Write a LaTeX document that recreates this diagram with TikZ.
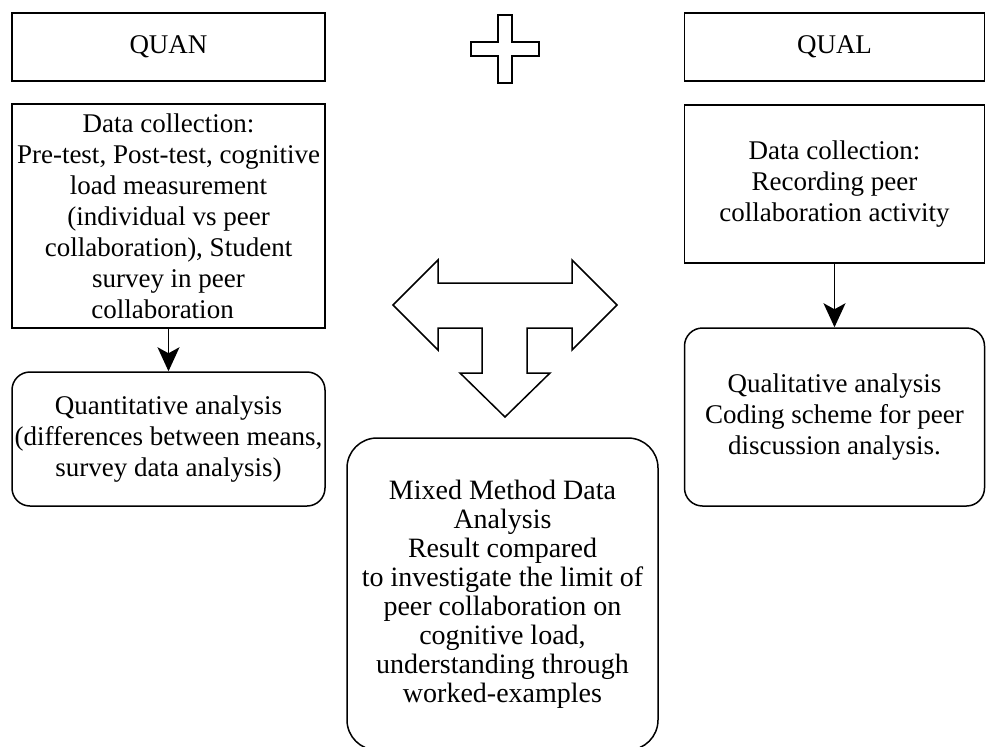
\documentclass[tikz,border=0pt]{standalone}
\usepackage{fontspec}
\setmainfont{Liberation Serif}
\usetikzlibrary{arrows.meta}

\begin{document}
\begin{tikzpicture}[
  x=1pt, y=-1pt,
  box/.style={draw, line width=1.5pt, align=center, inner sep=0pt,
    font=\fontsize{27}{31}\selectfont},
  roundbox/.style={box, rounded corners=18pt},
  outline/.style={draw, line width=1.5pt, line join=miter},
  link/.style={line width=1.5pt, -{Stealth[length=24pt,width=22pt,inset=6pt]}}
]
\useasboundingbox (0,0) rectangle (986,747);
\clip (0,0) rectangle (986,747);

\node[box, minimum width=313pt, minimum height=68pt] (quan) at (168.5,47) {QUAN};
\node[box, minimum width=300pt, minimum height=68pt] (qual) at (834.5,47) {QUAL};

\node[box, minimum width=313pt, minimum height=224pt] (quandata) at (168.5,216)
  {Data collection:\\ Pre-test, Post-test, cognitive\\ load measurement\\
   (individual vs peer\\ collaboration), Student\\ survey in peer\\
   collaboration\hspace*{12pt}};
\node[box, minimum width=300pt, minimum height=158pt] (qualdata) at (834.5,184)
  {Data collection:\\ Recording peer\\ collaboration activity};

\node[roundbox, minimum width=313pt, minimum height=134pt] (quanana) at (168.5,439)
  {Quantitative analysis\\ (differences between means,\\ survey data analysis)};
\node[roundbox, minimum width=300pt, minimum height=178pt] (qualana) at (834.5,417)
  {Qualitative analysis\\ Coding scheme for peer\\ discussion analysis.};

\node[roundbox, rounded corners=30pt, minimum width=311pt, minimum height=312pt,
  font=\fontsize{28}{29}\selectfont] (mixed) at (502.5,594)
  {Mixed Method Data\\ Analysis\\ Result compared\\ to investigate the limit of\\
   peer collaboration on\\ cognitive load,\\ understanding through\\ worked-examples};

\draw[link] (quandata) -- (quanana);
\draw[link] (qualdata) -- (qualana);

\draw[outline] (498,15) -- (512,15) -- (512,42) -- (539,42) -- (539,56) -- (512,56)
  -- (512,83) -- (498,83) -- (498,56) -- (471,56) -- (471,42) -- (498,42) -- cycle;

\draw[outline] (393,305) -- (438,260) -- (438,283) -- (572,283) -- (572,260) -- (617,305)
  -- (572,350) -- (572,328) -- (527,328) -- (527,373) -- (550,373) -- (505,417)
  -- (460,373) -- (482,373) -- (482,328) -- (438,328) -- (438,350) -- cycle;
\end{tikzpicture}
\end{document}
